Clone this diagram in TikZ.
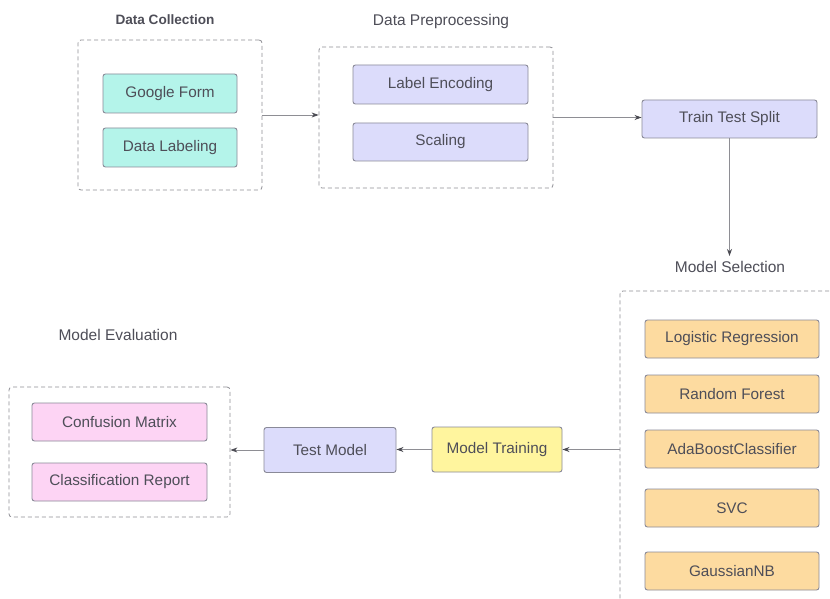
\documentclass[tikz,border=0pt]{standalone}
\usepackage{fontspec}
\setmainfont{Liberation Sans}
\usepackage{tikz}
\usetikzlibrary{arrows.meta}

\definecolor{txtgray}{HTML}{4E4E58}
\definecolor{edgegray}{HTML}{8A8A98}
\definecolor{linegray}{HTML}{8E8E94}
\definecolor{tipgray}{HTML}{4A4A52}
\definecolor{teal}{HTML}{B4F4EA}
\definecolor{lav}{HTML}{DCDCFB}
\definecolor{peach}{HTML}{FDDBA0}
\definecolor{pink}{HTML}{FDD4F4}
\definecolor{lemon}{HTML}{FFF59E}

\tikzset{
  stepbox/.style={draw=edgegray, line width=0.9pt, rounded corners=2.5pt, text=txtgray,
    font=\fontsize{15.3}{18}\selectfont, inner sep=0pt},
  groupbox/.style={draw=linegray, line width=0.8pt, dash pattern=on 4pt off 3pt,
    rounded corners=3pt, inner sep=0pt},
  grouptitle/.style={text=txtgray, font=\fontsize{15.5}{18}\selectfont},
  flow/.style={draw=linegray, line width=0.8pt, -{Stealth[length=7pt,width=5pt,color=tipgray]}},
}

\begin{document}
\begin{tikzpicture}[x=1pt, y=-1pt]
\clip (0,0) rectangle (830,599);
\fill[white] (0,0) rectangle (830,599);
%
% data collection
\node[grouptitle, font=\bfseries\fontsize{13.6}{16}\selectfont] (dctitle) at (165,20) {Data Collection};
\node[groupbox, minimum width=184pt, minimum height=150pt] (dc) at (170,115) {};
\node[stepbox, fill=teal, minimum width=134pt, minimum height=39pt] (gform) at (170,93.5) {Google Form};
\node[stepbox, fill=teal, minimum width=134pt, minimum height=39pt] (dlabel) at (170,147.5) {Data Labeling};
%
% data preprocessing
\node[grouptitle] (dptitle) at (441,21.5) {Data Preprocessing};
\node[groupbox, minimum width=234pt, minimum height=141pt] (dp) at (436,117.5) {};
\node[stepbox, fill=lav, minimum width=175pt, minimum height=39pt] (lenc) at (440.5,84.5) {Label Encoding};
\node[stepbox, fill=lav, minimum width=175pt, minimum height=38pt] (scale) at (440.5,142) {Scaling};
%
\node[stepbox, fill=lav, minimum width=175pt, minimum height=38pt] (tts) at (729.5,119) {Train Test Split};
%
% model selection
\node[grouptitle] (mstitle) at (730,267) {Model Selection};
\node[groupbox, minimum width=240pt, minimum height=316pt] (ms) at (740,449) {};
\node[stepbox, fill=peach, minimum width=174pt, minimum height=38pt] (logreg) at (732,339) {Logistic Regression};
\node[stepbox, fill=peach, minimum width=174pt, minimum height=38pt] (rforest) at (732,394) {Random Forest};
\node[stepbox, fill=peach, minimum width=174pt, minimum height=38pt] (ada) at (732,449) {AdaBoostClassifier};
\node[stepbox, fill=peach, minimum width=174pt, minimum height=38pt] (svc) at (732,508) {SVC};
\node[stepbox, fill=peach, minimum width=174pt, minimum height=38pt] (gnb) at (732,571) {GaussianNB};
%
\node[stepbox, fill=lemon, minimum width=130pt, minimum height=45pt] (mtrain) at (497,449.5) {Model Training};
\node[stepbox, fill=lav, minimum width=132pt, minimum height=45pt] (tmodel) at (330,450) {Test Model};
%
% model evaluation
\node[grouptitle] (metitle) at (118,335) {Model Evaluation};
\node[groupbox, minimum width=221pt, minimum height=130pt] (me) at (119.5,452) {};
\node[stepbox, fill=pink, minimum width=175pt, minimum height=38pt] (cmat) at (119.5,422) {Confusion Matrix};
\node[stepbox, fill=pink, minimum width=175pt, minimum height=38pt] (crep) at (119.5,482) {Classification Report};
%
\coordinate (msin) at (730,256);
\draw[flow] (dc.east) -- (dc.east -| dp.west);
\draw[flow] (dp.east) -- (dp.east -| tts.west);
\draw[flow] (tts.south) -- (tts.south |- msin);
\draw[flow] (ms.west |- mtrain.east) -- (mtrain.east);
\draw[flow] (mtrain.west) -- (mtrain.west -| tmodel.east);
\draw[flow] (tmodel.west) -- (tmodel.west -| me.east);
\end{tikzpicture}
\end{document}
